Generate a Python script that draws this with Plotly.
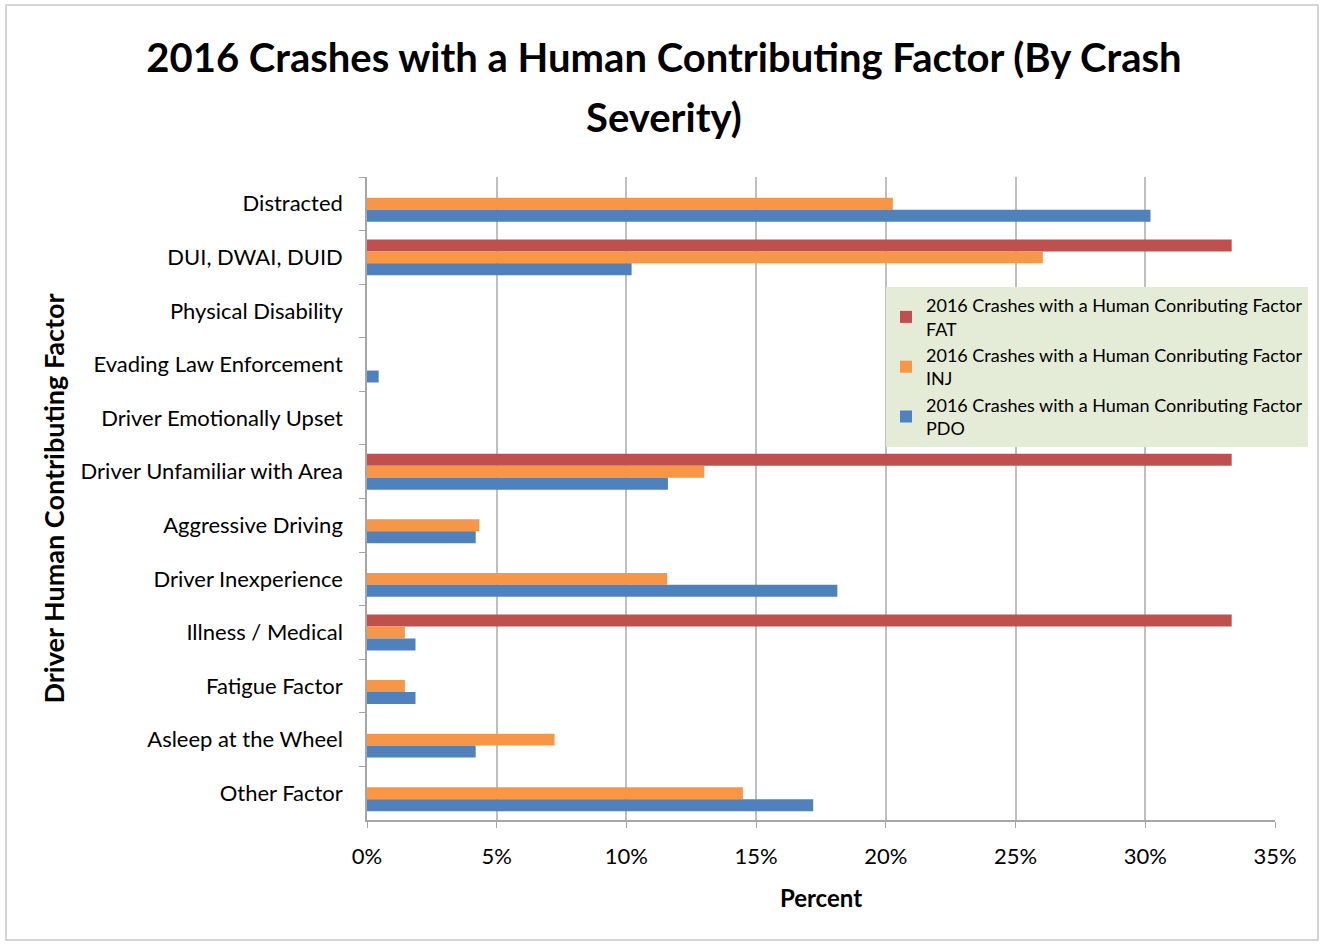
import plotly.graph_objects as go

FONT = "Lato, Open Sans, sans-serif"

categories = [
    "Distracted",
    "DUI, DWAI, DUID",
    "Physical Disability",
    "Evading Law Enforcement",
    "Driver Emotionally Upset",
    "Driver Unfamiliar with Area",
    "Aggressive Driving",
    "Driver Inexperience",
    "Illness / Medical",
    "Fatigue Factor",
    "Asleep at the Wheel",
    "Other Factor",
]

fat = [0, 0.3333, 0, 0, 0, 0.3333, 0, 0, 0.3333, 0, 0, 0]
inj = [0.2027, 0.2605, 0, 0, 0, 0.1300, 0.0433, 0.1157, 0.0146, 0.0146, 0.0723, 0.1449]
pdo = [0.3020, 0.1020, 0, 0.0045, 0, 0.1160, 0.0419, 0.1813, 0.0187, 0.0187, 0.0419, 0.1720]

series_names = [
    "2016 Crashes with a Human Conributing Factor<br>FAT",
    "2016 Crashes with a Human Conributing Factor<br>INJ",
    "2016 Crashes with a Human Conributing Factor<br>PDO",
]
series_colors = ["#C0504D", "#F79646", "#4F81BD"]

W, H = 1320, 945
L, R, T, B = 367, 45, 177, 125
PW, PH = W - L - R, H - T - B

fig = go.Figure()
for vals, name, color in zip([fat, inj, pdo], series_names, series_colors):
    fig.add_trace(
        go.Bar(
            x=vals,
            y=categories,
            name=name,
            orientation="h",
            marker=dict(color=color, line=dict(width=0)),
        )
    )

fig.update_layout(
    width=W,
    height=H,
    margin=dict(l=L, r=R, t=T, b=B),
    paper_bgcolor="white",
    plot_bgcolor="white",
    font=dict(family=FONT, size=22, color="#000000"),
    barmode="group",
    bargap=0.33,
    bargroupgap=0,
    title=dict(
        text="<b>2016 Crashes with a Human Contributing Factor (By Crash</b>",
        x=0.503,
        xref="container",
        xanchor="center",
        y=1 - 58 / H,
        yref="container",
        yanchor="middle",
        font=dict(family=FONT, size=40, color="#000000"),
    ),
    legend=dict(
        x=(886 - L) / PW,
        y=(H - B - 287) / PH,
        xanchor="left",
        yanchor="top",
        bgcolor="#E4ECD8",
        font=dict(family=FONT, size=18, color="#000000"),
        traceorder="normal",
        itemwidth=30,
    ),
    showlegend=True,
)

fig.add_annotation(
    text="<b>Severity)</b>",
    xref="paper",
    yref="paper",
    x=(664 - L) / PW,
    y=(H - B - 117) / PH,
    xanchor="center",
    yanchor="middle",
    showarrow=False,
    font=dict(family=FONT, size=40, color="#000000"),
)

fig.update_xaxes(
    range=[0, 0.35],
    dtick=0.05,
    tickformat=".0%",
    showgrid=True,
    gridcolor="#BFBFBF",
    gridwidth=1.5,
    showline=True,
    linecolor="#A6A6A6",
    linewidth=1.5,
    ticks="outside",
    ticklen=6,
    tickcolor="#A6A6A6",
    ticklabelstandoff=10,
    zeroline=False,
    title=dict(text="<b>Percent</b>", font=dict(size=24), standoff=22),
)
fig.update_yaxes(
    autorange="reversed",
    showgrid=False,
    showline=True,
    linecolor="#A6A6A6",
    linewidth=1.5,
    ticks="outside",
    ticklen=6,
    tickcolor="#A6A6A6",
    tickson="boundaries",
    ticklabelstandoff=18,
    title=dict(text="<b>Driver Human Contributing Factor</b>", font=dict(size=27), standoff=8),
)

# outer chart border
fig.add_shape(
    type="rect",
    xref="paper",
    yref="paper",
    x0=(6 - L) / PW,
    x1=(1318 - L) / PW,
    y0=(H - B - 940) / PH,
    y1=(H - B - 5) / PH,
    line=dict(color="#C8C8C8", width=1.5),
    layer="below",
)

fig.write_html(
    "out.html",
    config={"displayModeBar": False},
    post_script="document.body.style.margin='0';document.body.style.overflow='hidden';",
)
